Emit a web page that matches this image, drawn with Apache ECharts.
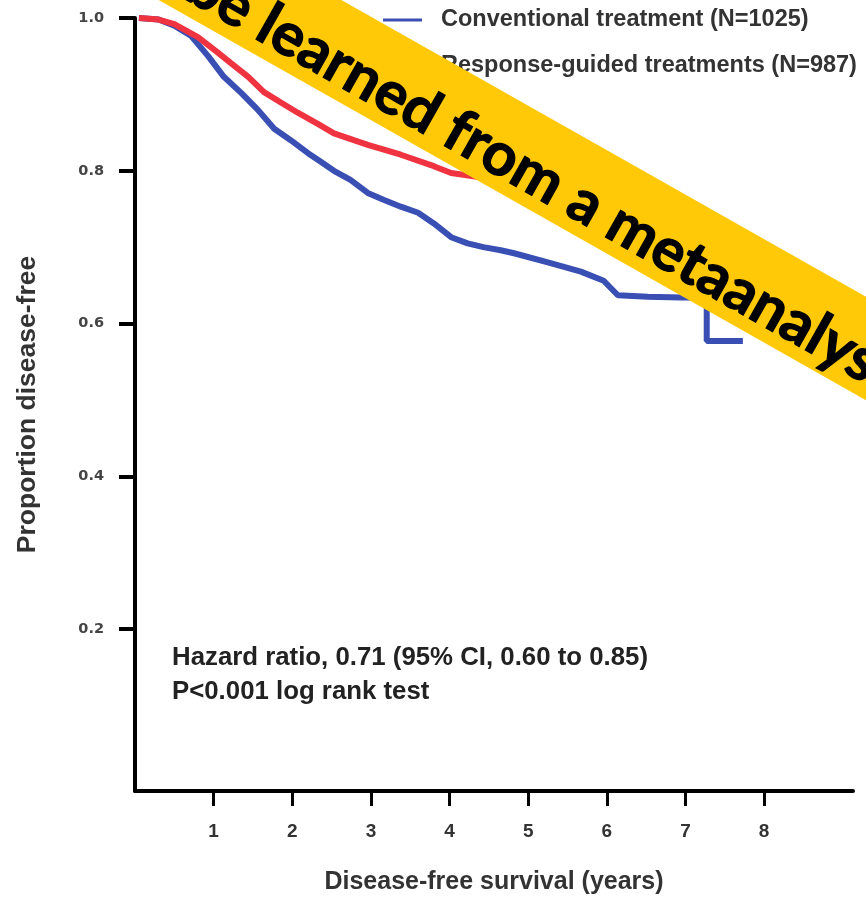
<!DOCTYPE html>
<html>
<head>
<meta charset="utf-8">
<script src="https://cdn.jsdelivr.net/npm/echarts@6/dist/echarts.min.js"></script>
<style>
html,body{margin:0;padding:0;background:#fff;}
#chart{width:866px;height:900px;}
</style>
</head>
<body>
<div id="chart"></div>
<script>
// ---- data ----
var seriesNames = ['Conventional treatment (N=1025)', 'Response-guided treatments (N=987)'];
var convYears = [0.05, 0.3, 0.5, 0.71, 0.93, 1.13, 1.35, 1.56, 1.77, 1.98, 2.2, 2.33, 2.53, 2.74, 2.96, 3.16, 3.38, 3.6, 3.8, 4.02, 4.23, 4.43, 4.65, 4.82, 5.25, 5.67, 5.96, 6.14, 6.52, 6.94, 7.27, 7.27, 7.73];
var convSurv  = [1.0, 0.998, 0.99, 0.977, 0.95, 0.923, 0.902, 0.88, 0.855, 0.84, 0.823, 0.814, 0.80, 0.788, 0.771, 0.762, 0.753, 0.745, 0.731, 0.713, 0.705, 0.70, 0.696, 0.692, 0.68, 0.668, 0.656, 0.637, 0.635, 0.634, 0.634, 0.577, 0.577];
var respYears = [0.05, 0.3, 0.5, 0.8, 1.05, 1.22, 1.44, 1.64, 1.86, 2.07, 2.33, 2.53, 2.96, 3.38, 3.8, 4.02, 4.5, 5.0, 5.5, 6.0, 6.5, 7.0];
var respSurv  = [1.0, 0.998, 0.992, 0.975, 0.955, 0.941, 0.923, 0.903, 0.889, 0.876, 0.861, 0.849, 0.834, 0.821, 0.806, 0.797, 0.79, 0.782, 0.775, 0.768, 0.762, 0.758];
var xTickValues = [1, 2, 3, 4, 5, 6, 7, 8];
var yTickValues = [0.2, 0.4, 0.6, 0.8, 1.0];
var annotationLines = ['Hazard ratio, 0.71 (95% CI, 0.60 to 0.85)', 'P<0.001 log rank test'];
var bannerText = 'be learned from a metaanalysis';

function pairs(xs, ys) { return xs.map(function (x, i) { return [x, ys[i]]; }); }

var chart = echarts.init(document.getElementById('chart'), null, {renderer: 'canvas'});
var deg = Math.PI / 180;
var option = {
  animation: false,
  backgroundColor: '#ffffff',
  grid: {left: 135, right: 13, top: 18, bottom: 109, containLabel: false},
  legend: {
    orient: 'vertical', left: 378, top: 3, itemGap: 22,
    icon: 'rect', itemWidth: 39, itemHeight: 3,
    data: seriesNames,
    textStyle: {fontFamily: 'Liberation Sans', fontSize: 23.5, fontWeight: 'bold', color: '#333', padding: [0, 0, 0, 14]}
  },
  xAxis: {
    type: 'value', min: 0, max: 9.13,
    name: 'Disease-free survival (years)', nameLocation: 'middle', nameGap: 79,
    nameTextStyle: {fontFamily: 'Liberation Sans', fontSize: 25, fontWeight: 'bold', color: '#333'},
    axisLine: {onZero: false, lineStyle: {color: '#000', width: 4}},
    axisTick: {customValues: xTickValues, length: 15, lineStyle: {color: '#000', width: 3}},
    axisLabel: {customValues: xTickValues, margin: 31, fontFamily: 'Liberation Sans', fontSize: 19, fontWeight: 'bold', color: '#333'},
    splitLine: {show: false}
  },
  yAxis: {
    type: 'value', min: -0.012, max: 1.0,
    name: 'Proportion disease-free', nameLocation: 'middle', nameGap: 94,
    nameTextStyle: {fontFamily: 'Liberation Sans', fontSize: 26.5, fontWeight: 'bold', color: '#333'},
    axisLine: {show: true, lineStyle: {color: '#000', width: 4}},
    axisTick: {show: true, customValues: yTickValues, length: 16, lineStyle: {color: '#000', width: 4}},
    axisLabel: {customValues: yTickValues, margin: 31, fontFamily: 'DejaVu Sans', fontSize: 14.5, fontWeight: 'bold', color: '#444',
      formatter: function (v) { return v.toFixed(1); }},
    splitLine: {show: false}
  },
  series: [
    {name: seriesNames[0], type: 'line', data: pairs(convYears, convSurv), showSymbol: false, smooth: false,
     itemStyle: {color: '#3a4fb4'}, lineStyle: {color: '#3a4fb4', width: 6}, z: 2},
    {name: seriesNames[1], type: 'line', data: pairs(respYears, respSurv), showSymbol: false, smooth: false,
     itemStyle: {color: '#ef3340'}, lineStyle: {color: '#ef3340', width: 6}, z: 3}
  ],
  graphic: [
    {type: 'text', left: 172, top: 645, z: 50,
     style: {text: annotationLines[0], font: 'bold 25.8px "Liberation Sans"', fill: '#222'}},
    {type: 'text', left: 172, top: 679, z: 50,
     style: {text: annotationLines[1], font: 'bold 25.8px "Liberation Sans"', fill: '#222'}},
    {type: 'group', x: 600, y: 198, rotation: -29.5 * deg, z: 100,
     children: [
       {type: 'rect', shape: {x: -900, y: -45, width: 1800, height: 90}, style: {fill: '#ffc907'}, z: 100},
       {type: 'text', z: 101, style: {text: bannerText, x: -462, y: 12, font: 'bold 60px Lato', fill: '#000',
         stroke: '#000', lineWidth: 1.2,
         textAlign: 'left', textVerticalAlign: 'middle', align: 'left', verticalAlign: 'middle'}}
     ]}
  ]
};
chart.setOption(option);
</script>
</body>
</html>
